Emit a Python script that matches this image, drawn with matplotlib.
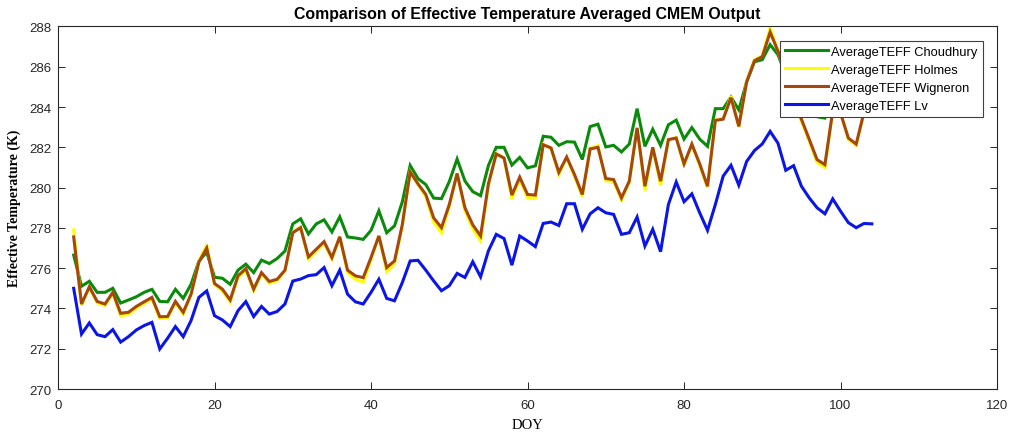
import matplotlib
matplotlib.use("Agg")
import matplotlib.pyplot as plt
from matplotlib import font_manager

# Day of year covered by the averaged CMEM runs
doy = list(range(2, 105))

teff_choudhury = [
    276.65, 275.10, 275.35, 274.80, 274.80, 275.00, 274.27, 274.42, 274.58, 274.80,
    274.95, 274.35, 274.33, 274.95, 274.50, 275.20, 276.35, 276.80, 275.55, 275.50,
    275.20, 275.90, 276.20, 275.78, 276.40, 276.23, 276.48, 276.85, 278.20, 278.45,
    277.70, 278.20, 278.40, 277.80, 278.55, 277.55, 277.50, 277.43, 277.88, 278.85,
    277.76, 278.10, 279.30, 281.10, 280.45, 280.15, 279.48, 279.45, 280.30, 281.42,
    280.33, 279.80, 279.60, 281.10, 282.00, 282.00, 281.12, 281.50, 280.98, 281.08,
    282.55, 282.50, 282.10, 282.28, 282.26, 281.40, 283.03, 283.15, 282.02, 282.10,
    281.77, 282.16, 283.92, 282.05, 282.90, 282.10, 283.12, 283.35, 282.41, 282.98,
    282.41, 282.05, 283.92, 283.92, 284.50, 283.86, 285.25, 286.25, 286.35, 287.10,
    286.60, 285.60, 285.00, 284.50, 283.75, 283.52, 283.45, 284.30, 284.70, 283.90,
    283.80, 284.60, 284.90,
]

teff_holmes = [
    277.90, 274.15, 275.05, 274.28, 274.15, 274.75, 273.65, 273.70, 274.00, 274.25,
    274.48, 273.50, 273.52, 274.30, 273.72, 274.68, 276.35, 277.15, 275.18, 274.88,
    274.32, 275.55, 275.92, 274.88, 275.72, 275.25, 275.38, 275.85, 277.78, 278.05,
    276.45, 276.85, 277.25, 276.45, 277.55, 275.80, 275.45, 275.30, 276.42, 277.60,
    275.82, 276.20, 278.12, 280.80, 280.15, 279.55, 278.30, 277.75, 279.05, 280.72,
    278.85, 277.95, 277.35, 280.10, 281.70, 281.45, 279.45, 280.42, 279.50, 279.48,
    282.15, 281.95, 280.65, 281.48, 280.55, 279.55, 281.95, 282.08, 280.35, 280.30,
    279.38, 280.25, 283.00, 279.85, 281.98, 280.10, 282.40, 282.48, 281.10, 282.15,
    281.10, 280.00, 283.35, 283.42, 284.55, 283.00, 285.30, 286.35, 286.55, 287.95,
    286.80, 285.55, 284.30, 283.30, 282.30, 281.25, 281.00, 283.80, 283.70, 282.40,
    282.10, 283.75, 284.30,
]

teff_wigneron = [
    277.55, 274.22, 275.08, 274.35, 274.22, 274.80, 273.76, 273.81, 274.10, 274.33,
    274.55, 273.59, 273.60, 274.35, 273.81, 274.71, 276.30, 277.00, 275.24, 274.96,
    274.42, 275.62, 275.98, 274.96, 275.78, 275.34, 275.45, 275.90, 277.76, 278.01,
    276.56, 276.94, 277.32, 276.53, 277.56, 275.90, 275.62, 275.53, 276.53, 277.60,
    276.03, 276.36, 278.17, 280.78, 280.19, 279.66, 278.50, 278.01, 279.16, 280.70,
    279.00, 278.15, 277.60, 280.19, 281.67, 281.47, 279.63, 280.52, 279.66, 279.63,
    282.13, 281.97, 280.76, 281.52, 280.65, 279.66, 281.92, 282.00, 280.45, 280.40,
    279.49, 280.32, 282.96, 280.07, 282.00, 280.32, 282.38, 282.46, 281.18, 282.16,
    281.18, 280.07, 283.34, 283.40, 284.47, 283.04, 285.25, 286.30, 286.50, 287.72,
    286.78, 285.60, 284.40, 283.40, 282.40, 281.39, 281.14, 283.80, 283.70, 282.46,
    282.16, 283.75, 284.30,
]

teff_lv = [
    275.00, 272.73, 273.28, 272.70, 272.60, 272.95, 272.33, 272.60, 272.93, 273.15,
    273.31, 271.99, 272.52, 273.10, 272.60, 273.40, 274.55, 274.87, 273.64, 273.43,
    273.10, 273.89, 274.34, 273.60, 274.10, 273.72, 273.85, 274.22, 275.36, 275.46,
    275.63, 275.68, 276.03, 275.13, 275.90, 274.71, 274.33, 274.22, 274.80, 275.45,
    274.50, 274.38, 275.29, 276.36, 276.39, 275.90, 275.37, 274.88, 275.13, 275.74,
    275.54, 276.32, 275.57, 276.86, 277.68, 277.47, 276.15, 277.60, 277.35, 277.07,
    278.22, 278.29, 278.12, 279.20, 279.20, 277.93, 278.70, 279.00, 278.75, 278.67,
    277.68, 277.76, 278.54, 277.10, 277.93, 276.82, 279.16, 280.28, 279.30, 279.69,
    278.75, 277.88, 279.16, 280.57, 281.11, 280.12, 281.30, 281.84, 282.17, 282.79,
    282.21, 280.86, 281.09, 280.07, 279.49, 279.00, 278.70, 279.44, 278.83, 278.26,
    278.01, 278.22, 278.20,
]

series_labels = [
    "AverageTEFF Choudhury",
    "AverageTEFF Holmes",
    "AverageTEFF Wigneron",
    "AverageTEFF Lv",
]
series_colors = ["#0b8a0b", "#ffff00", "#a5470f", "#0b16e6"]

x_ticks = [0, 20, 40, 60, 80, 100, 120]
y_ticks = [270, 272, 274, 276, 278, 280, 282, 284, 286, 288]

installed = {f.name for f in font_manager.fontManager.ttflist}
sans = "Liberation Sans Narrow" if "Liberation Sans Narrow" in installed else "Liberation Sans"
serif = "Liberation Serif"

fig = plt.figure(figsize=(10.11, 4.35), dpi=100)
ax = fig.add_axes([0.0574, 0.1034, 0.9288, 0.8334])

for values, label, color in zip(
    [teff_choudhury, teff_holmes, teff_wigneron, teff_lv], series_labels, series_colors
):
    ax.plot(doy, values, color=color, lw=2.2, label=label, solid_joinstyle="miter")

ax.set_xlim(0, 120)
ax.set_ylim(270, 288)
ax.set_xticks(x_ticks)
ax.set_yticks(y_ticks)
ax.tick_params(direction="in", length=5, width=0.7, top=True, right=True,
               colors="#262626", labelsize=9.5)
ax.tick_params(axis="x", pad=7)
ax.tick_params(axis="y", pad=5)
for lbl in ax.get_xticklabels() + ax.get_yticklabels():
    lbl.set_fontfamily(sans)
    lbl.set_color("#262626")
for sp in ax.spines.values():
    sp.set_color("#262626")
    sp.set_linewidth(0.8)

ax.set_title("Comparison of Effective Temperature Averaged CMEM Output",
             fontfamily=sans, fontweight="bold", fontsize=11.4, pad=6)
ax.set_xlabel("DOY", fontfamily=serif, fontsize=10.5, labelpad=5)
ax.set_ylabel("Effective Temperature (K)", fontfamily=serif, fontweight="bold",
              fontsize=10, labelpad=6)

leg = ax.legend(loc="upper right", bbox_to_anchor=(0.985, 0.961), borderaxespad=0,
                fancybox=False, framealpha=1, edgecolor="#404040",
                prop={"family": sans, "size": 9.3}, handlelength=3.3,
                handletextpad=0.3, labelspacing=0.46, borderpad=0.4)
leg.get_frame().set_linewidth(0.8)

fig.savefig("out.png", dpi=100)
